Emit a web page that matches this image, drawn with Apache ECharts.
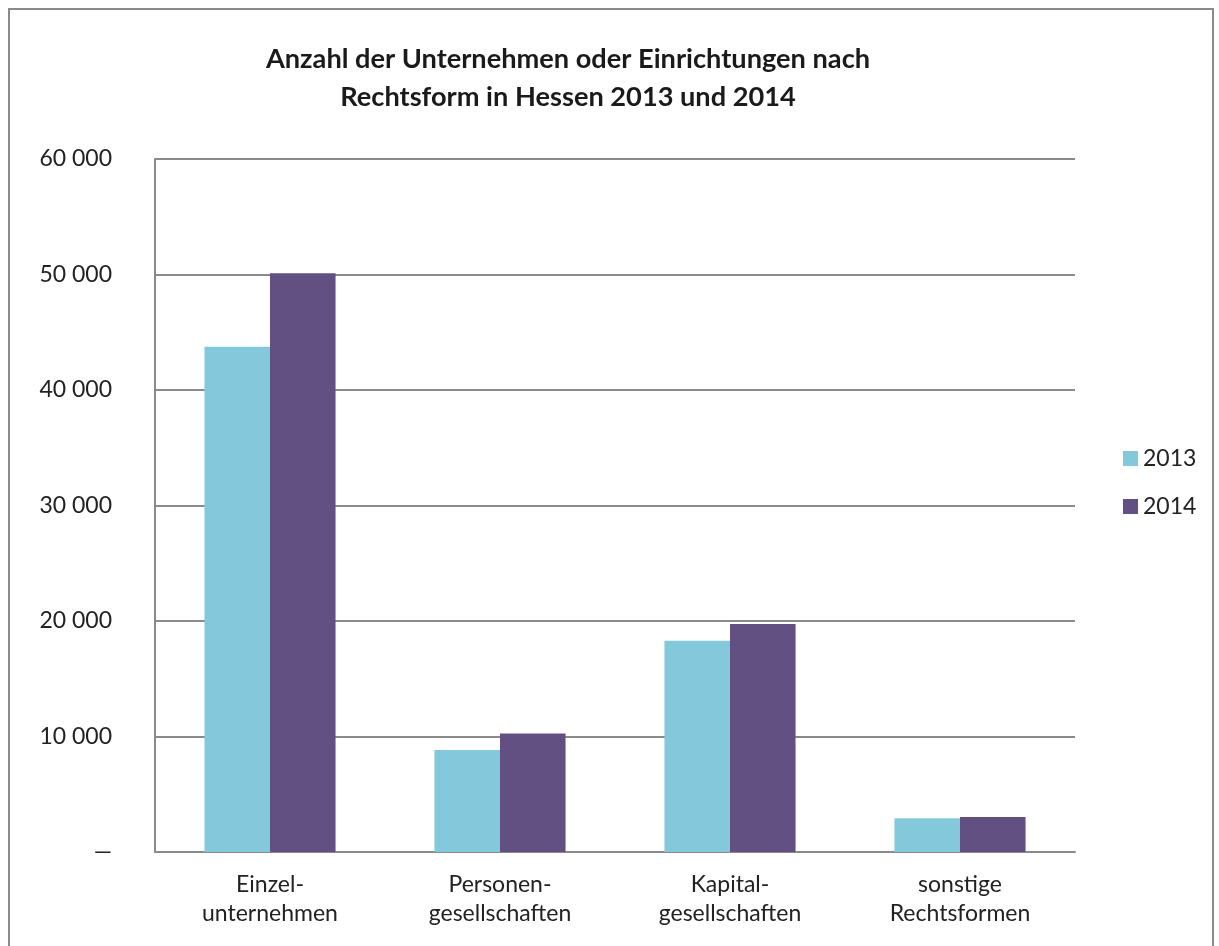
<!DOCTYPE html>
<html><head><meta charset="utf-8">
<script src="https://cdn.jsdelivr.net/npm/echarts@6/dist/echarts.min.js"></script>
<style>html,body{margin:0;padding:0;background:#fff}#c{width:1219px;height:946px}</style>
</head><body><div id="c"></div>
<script>
const categories = ['Einzel-\nunternehmen', 'Personen-\ngesellschaften', 'Kapital-\ngesellschaften', 'sonstige\nRechtsformen'];
const values2013 = [43750, 8830, 18300, 2920];
const values2014 = [50100, 10270, 19740, 3030];
const seriesNames = ['2013', '2014'];
const titleText = 'Anzahl der Unternehmen oder Einrichtungen nach\nRechtsform in Hessen 2013 und 2014';

const font = 'Lato, "Open Sans", sans-serif';
const chart = echarts.init(document.getElementById('c'), null, {renderer: 'canvas'});
chart.setOption({
  animation: false,
  backgroundColor: '#fff',
  title: {
    text: titleText, left: 563, top: 35, textAlign: 'center',
    textStyle: {fontFamily: font, fontSize: 27.2, fontWeight: 'bold', color: '#1a1a1a', lineHeight: 38}
  },
  graphic: [{
    type: 'rect', shape: {x: 9, y: 9, width: 1204, height: 960},
    style: {fill: 'none', stroke: '#8a8a8a', lineWidth: 2}, silent: true
  }],
  legend: {
    orient: 'vertical', left: 1118, top: 442, itemWidth: 15, itemHeight: 15, itemGap: 25,
    icon: 'rect', data: seriesNames,
    textStyle: {fontFamily: font, fontSize: 23, color: '#222'}
  },
  grid: {left: 155, right: 144, top: 159, bottom: 94, containLabel: false},
  xAxis: {
    type: 'category', data: categories,
    axisTick: {show: false},
    axisLine: {lineStyle: {color: '#8a8a8a', width: 2}},
    axisLabel: {fontFamily: font, fontSize: 23, color: '#222', lineHeight: 29, margin: 18, interval: 0}
  },
  yAxis: {
    type: 'value', min: 0, max: 60000, interval: 10000,
    axisLine: {show: true, lineStyle: {color: '#8a8a8a', width: 2}},
    axisTick: {show: false},
    splitLine: {lineStyle: {color: '#8a8a8a', width: 2}},
    axisLabel: {
      fontFamily: font, fontSize: 23, color: '#222', margin: 43,
      formatter: v => v === 0 ? '—' : String(v).replace(/\B(?=(\d{3})+(?!\d))/g, ' ')
    }
  },
  series: [
    {name: seriesNames[0], type: 'bar', data: values2013, barWidth: '28.5%', barGap: '0%',
     itemStyle: {color: '#84C9DB'}},
    {name: seriesNames[1], type: 'bar', data: values2014, barWidth: '28.5%', barGap: '0%',
     itemStyle: {color: '#625083'}}
  ]
});
</script></body></html>
